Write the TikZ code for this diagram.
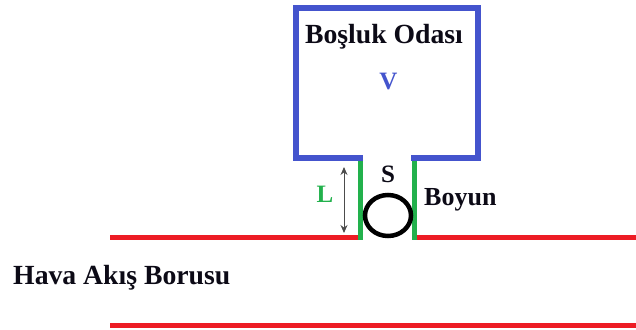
\documentclass[tikz,border=0pt]{standalone}
\usepackage{fontspec}
\setmainfont{Liberation Serif}
\usetikzlibrary{arrows.meta,shapes.geometric}
\definecolor{cavblue}{RGB}{68,84,205}
\definecolor{pipered}{RGB}{237,28,36}
\definecolor{neckgreen}{RGB}{34,177,76}
\definecolor{inkdark}{RGB}{12,10,22}
\tikzset{
  cav/.style={draw=cavblue,line width=5.5pt,line join=miter},
  pipe/.style={draw=pipered,line width=5pt},
  neck/.style={draw=neckgreen,line width=5pt},
  lbl/.style={font=\bfseries\fontsize{27.7}{29}\selectfont,inner sep=0pt,text=inkdark,anchor=base},
  lbl2/.style={font=\bfseries\fontsize{25}{27}\selectfont,inner sep=0pt,anchor=base},
  dim/.style={draw=black!70,line width=1pt,{Stealth[length=8pt,width=7pt]}-{Stealth[length=8pt,width=7pt]}}
}
\begin{document}
\begin{tikzpicture}[x=1pt,y=-1pt]
\useasboundingbox (0,0) rectangle (636,329);
\coordinate (nl) at (360.5,158);
\coordinate (nr) at (414,158);
\coordinate (bl) at (360.5,239.5);
\coordinate (br) at (414,239.5);
\coordinate (cl) at (363,158);
\coordinate (cr) at (411,158);
\coordinate (pl) at (110,237);
\coordinate (pm) at (360.5,237);
\coordinate (pn) at (414,237);
\coordinate (pr) at (636,237);
\coordinate (ql) at (110,325);
\coordinate (qr) at (636,325);
\coordinate (al) at (344,167);
\coordinate (ab) at (344,233);
\draw[pipe] (pl) -- (pm);
\draw[pipe] (pn) -- (pr);
\draw[pipe] (ql) -- (qr);
\draw[neck] (nl) -- (bl);
\draw[neck] (nr) -- (br);
\draw[cav] (cl) -- (296,158) -- (296,8) -- (478,8) -- (478,158) -- (cr);
\node[draw=black,line width=4.5pt,ellipse,minimum width=46pt,minimum height=41pt,inner sep=0pt] (circ) at (388,215.5) {};
\draw[dim] (al) -- (ab);
\node[lbl] (odasi) at (384,44) {Boşluk Odası};
\node[lbl2,text=cavblue] (v) at (388.5,89) {V};
\node[lbl2,text=inkdark] (s) at (388,182) {S};
\node[lbl2,text=neckgreen] (l) at (325,202) {L};
\node[lbl,anchor=base west,font=\bfseries\fontsize{26}{28}\selectfont] (boyun) at (424,205) {Boyun};
\node[lbl,anchor=base west] (hava) at (13,284) {Hava Akış Borusu};
\end{tikzpicture}
\end{document}
